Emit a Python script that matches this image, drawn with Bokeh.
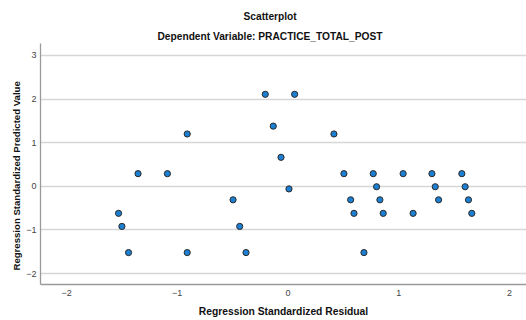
from bokeh.plotting import figure
from bokeh.models import Range1d, FixedTicker, ColumnDataSource, Title
from bokeh.embed import file_html
from bokeh.resources import INLINE

# Regression standardized residual (x) and standardized predicted value (y)
residual = [-0.205, 0.06, -0.133, -0.91, -0.063, -1.354, -1.089, 0.009, -0.496,
            -1.53, -1.50, -0.436, -1.44, -0.91, -0.379,
            0.415, 0.505, 0.77, 1.04, 1.30, 1.57, 0.80, 1.33, 1.60,
            0.566, 0.83, 1.36, 1.63, 0.596, 0.86, 1.13, 1.66, 0.686]
predicted = [2.11, 2.11, 1.38, 1.20, 0.665, 0.29, 0.29, -0.06, -0.31,
             -0.62, -0.92, -0.92, -1.52, -1.52, -1.52,
             1.20, 0.29, 0.29, 0.29, 0.29, 0.29, -0.01, -0.01, -0.01,
             -0.31, -0.31, -0.31, -0.31, -0.62, -0.62, -0.62, -0.62, -1.52]

x_ticks = [-2, -1, 0, 1, 2]
y_ticks = [-2, -1, 0, 1, 2, 3]

title_text = "Scatterplot"
subtitle_text = "Dependent Variable: PRACTICE_TOTAL_POST"
x_label = "Regression Standardized Residual"
y_label = "Regression Standardized Predicted Value"

FONT = "Liberation Sans"

p = figure(width=526, height=320, output_backend="svg", toolbar_location=None,
           x_range=Range1d(-2.235, 2.154), y_range=Range1d(-2.252, 3.275),
           min_border_left=40, min_border_right=0, min_border_top=43, min_border_bottom=36)
p.outline_line_color = None
p.background_fill_color = "white"

src = ColumnDataSource(dict(x=residual, y=predicted))
p.scatter("x", "y", source=src, size=6.2, fill_color="#1c7fd1",
          line_color="#2a2a2a", line_width=1)

for ax, ticks in ((p.xaxis[0], x_ticks), (p.yaxis[0], y_ticks)):
    ax.ticker = FixedTicker(ticks=ticks)
    ax.major_tick_in = 0
    ax.major_tick_out = 0
    ax.minor_tick_in = 0
    ax.minor_tick_out = 0
    ax.axis_line_color = "#9a9a9a"
    ax.axis_line_width = 1.3
    ax.major_label_text_font = FONT
    ax.major_label_text_font_size = "9px"
    ax.major_label_text_color = "#444444"
p.xaxis.major_label_standoff = 5
p.yaxis.major_label_standoff = 4

p.xaxis.axis_label = x_label
p.xaxis.axis_label_text_font = FONT
p.xaxis.axis_label_text_font_size = "10.3px"
p.xaxis.axis_label_text_font_style = "bold"
p.xaxis.axis_label_text_color = "#111111"
p.xaxis.axis_label_standoff = 7

p.xgrid.grid_line_color = None
p.ygrid.ticker = FixedTicker(ticks=y_ticks)
p.ygrid.grid_line_color = "#d6d6d6"
p.ygrid.grid_line_width = 1.3

# y label as a side title (offset along the axis)
p.add_layout(Title(text=y_label, align="left", offset=14, standoff=4,
                   text_font=FONT, text_font_size="9.6px", text_font_style="bold",
                   text_color="#111111"), "left")

# titles: the one added last sits farthest from the frame
p.add_layout(Title(text=subtitle_text, align="left", offset=117, standoff=4,
                   text_font=FONT, text_font_size="10.2px", text_font_style="bold",
                   text_color="#111111"), "above")
p.add_layout(Title(text=title_text, align="left", offset=203, standoff=9,
                   text_font=FONT, text_font_size="10.2px", text_font_style="bold",
                   text_color="#111111"), "above")

open("out.html", "w").write(file_html(p, INLINE))
